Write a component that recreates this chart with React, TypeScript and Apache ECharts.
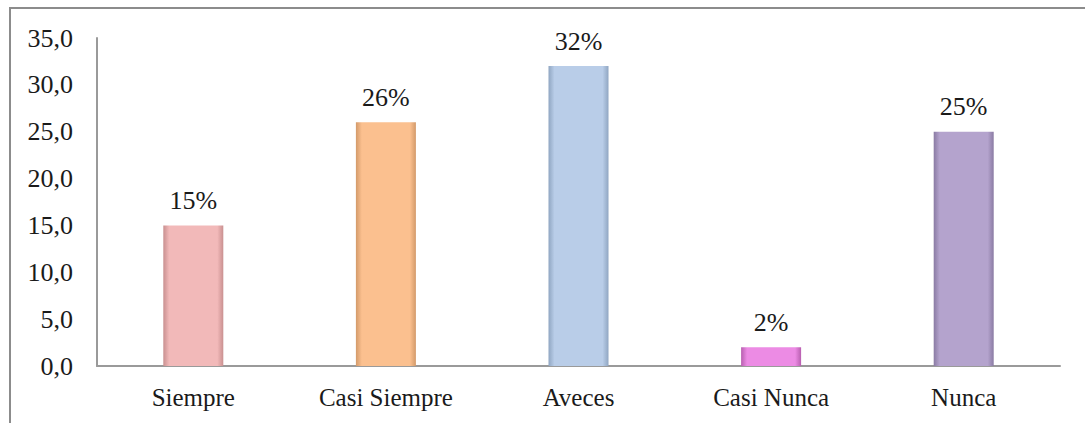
import React, { useEffect, useRef } from "react";
import * as echarts from "echarts";

const categories = ["Siempre", "Casi Siempre", "Aveces", "Casi Nunca", "Nunca"];
const values = [15, 26, 32, 2, 25];
const labels = ["15%", "26%", "32%", "2%", "25%"];
const colors = ["#f2b9b9", "#fbc08f", "#b9cde8", "#ec8be4", "#b4a3cd"];
const edgeColors = ["#c99090", "#d39a6a", "#90a6c2", "#b85fb0", "#8a7ba3"];

export default function App() {
  const ref = useRef<HTMLDivElement>(null);
  useEffect(() => {
    document.body.style.margin = "0";
    const chart = echarts.init(ref.current!, null, { renderer: "svg" });
    const font = "Liberation Serif";
    chart.setOption({
      animation: false,
      backgroundColor: "#ffffff",
      grid: { left: 97, right: 25, top: 38, bottom: 57 },
      graphic: [
        {
          type: "rect",
          shape: { x: 10, y: 8, width: 1100, height: 430 },
          style: { fill: "none", stroke: "#8c8c8c", lineWidth: 2 },
          silent: true,
        },
      ],
      xAxis: {
        type: "category",
        data: categories,
        axisLine: { lineStyle: { color: "#9a9a9a", width: 2 } },
        axisTick: { show: false },
        axisLabel: {
          color: "#1a1a1a",
          fontFamily: font,
          fontSize: 25,
          margin: 19,
        },
      },
      yAxis: {
        type: "value",
        min: 0,
        max: 35,
        interval: 5,
        axisLine: { show: true, lineStyle: { color: "#9a9a9a", width: 2 } },
        axisTick: { show: false },
        splitLine: { show: false },
        axisLabel: {
          color: "#1a1a1a",
          fontFamily: font,
          fontSize: 26,
          margin: 24,
          formatter: (v: number) => v.toFixed(1).replace(".", ","),
        },
      },
      series: [
        {
          type: "bar",
          barWidth: 60,
          data: values.map((v, i) => ({
            value: v,
            itemStyle: {
              color: {
                type: "linear",
                x: 0,
                y: 0,
                x2: 1,
                y2: 0,
                colorStops: [
                  { offset: 0, color: edgeColors[i] },
                  { offset: 0.1, color: colors[i] },
                  { offset: 0.9, color: colors[i] },
                  { offset: 1, color: edgeColors[i] },
                ],
              },
            },
          })),
          label: {
            show: true,
            position: "top",
            distance: 12,
            color: "#1a1a1a",
            fontFamily: font,
            fontSize: 26,
            formatter: (p: any) => labels[p.dataIndex],
          },
        },
      ],
    });
    return () => chart.dispose();
  }, []);
  return <div ref={ref} style={{ width: 1085, height: 423 }} />;
}
